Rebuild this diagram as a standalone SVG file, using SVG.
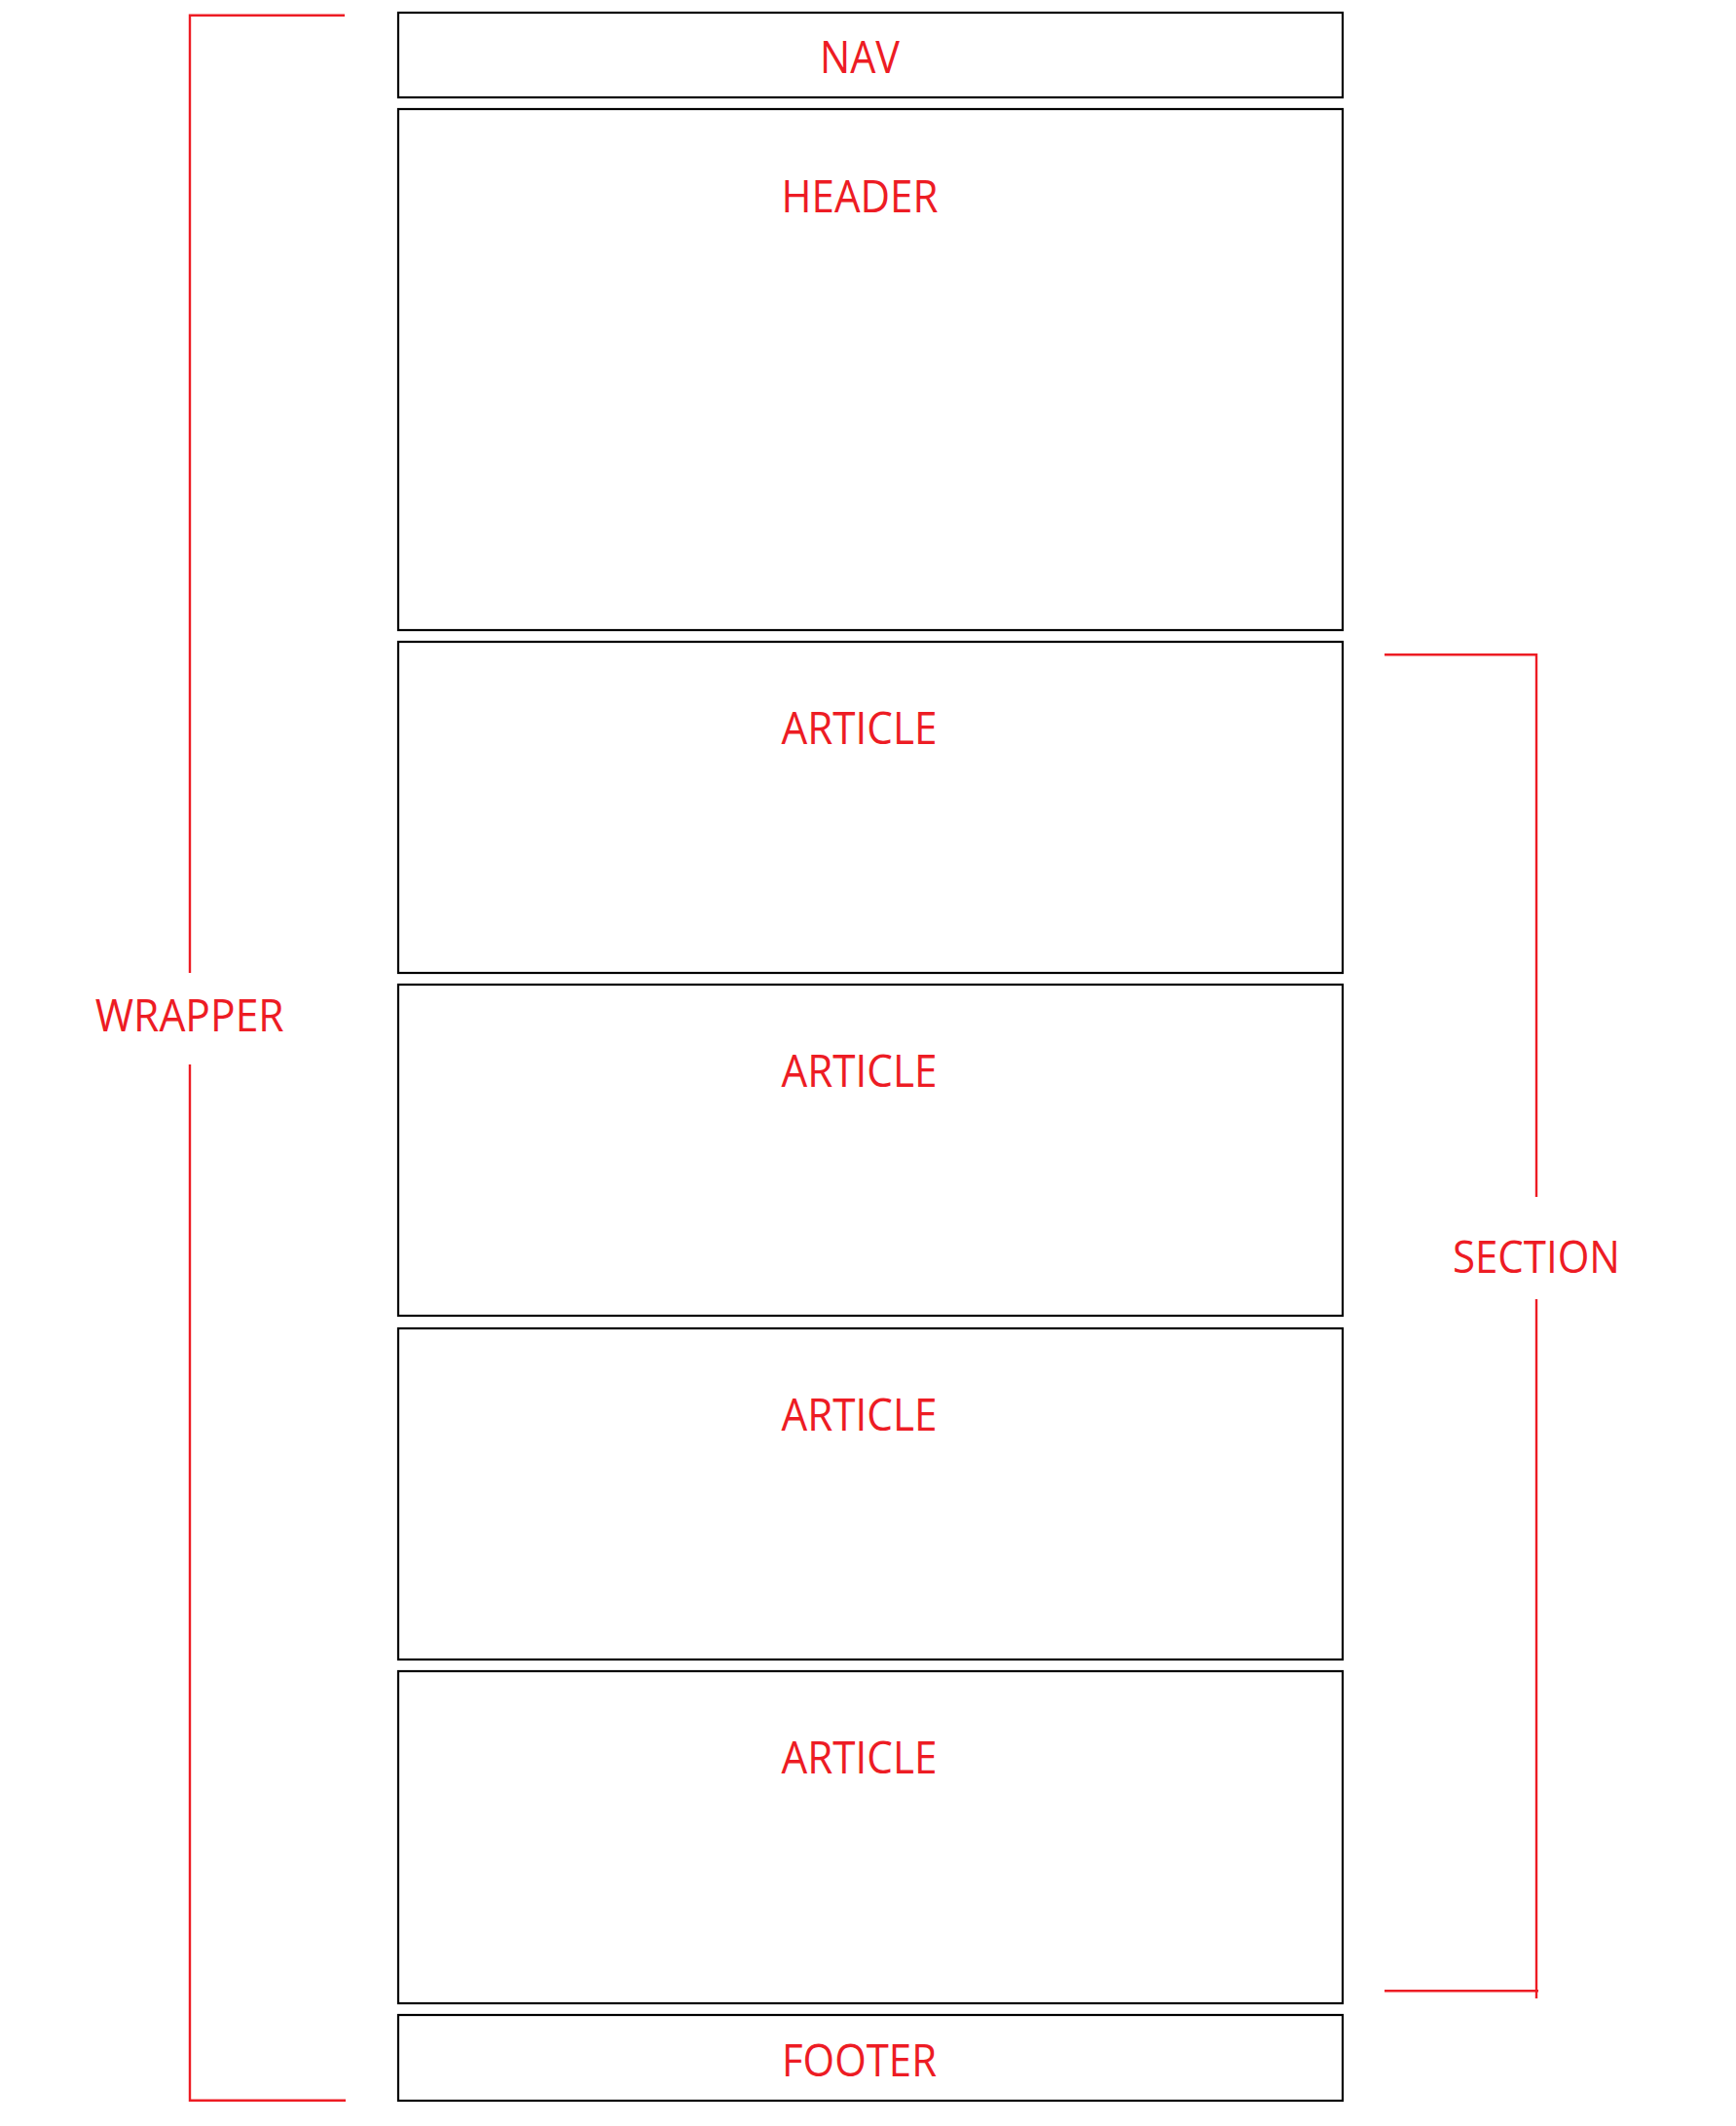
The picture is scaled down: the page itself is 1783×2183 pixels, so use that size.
<svg xmlns="http://www.w3.org/2000/svg" width="1783" height="2183" viewBox="0 0 1783 2183">
<style>
.box{fill:#fff;stroke:#000;stroke-width:2.2}
.lbl{font-family:"Open Sans","Noto Sans",sans-serif;font-size:45px;fill:#ED1C24;text-anchor:middle}
.br{fill:none;stroke:#ED1C24;stroke-width:2.4}
</style>
<rect width="1783" height="2183" fill="#fff"/>
<g id="nav"><rect class="box" x="409" y="13" width="970" height="87"/><text class="lbl" x="883" y="75" textLength="82" lengthAdjust="spacingAndGlyphs">NAV</text></g>
<g id="header"><rect class="box" x="409" y="112" width="970" height="535"/><text class="lbl" x="883" y="217.7" textLength="161" lengthAdjust="spacingAndGlyphs">HEADER</text></g>
<g id="article1"><rect class="box" x="409" y="659" width="970" height="340"/><text class="lbl" x="882.5" y="764" textLength="160" lengthAdjust="spacingAndGlyphs">ARTICLE</text></g>
<g id="article2"><rect class="box" x="409" y="1011" width="970" height="340"/><text class="lbl" x="882.5" y="1116" textLength="160" lengthAdjust="spacingAndGlyphs">ARTICLE</text></g>
<g id="article3"><rect class="box" x="409" y="1364" width="970" height="340"/><text class="lbl" x="882.5" y="1469" textLength="160" lengthAdjust="spacingAndGlyphs">ARTICLE</text></g>
<g id="article4"><rect class="box" x="409" y="1716" width="970" height="341"/><text class="lbl" x="882.5" y="1821" textLength="160" lengthAdjust="spacingAndGlyphs">ARTICLE</text></g>
<g id="footer"><rect class="box" x="409" y="2069" width="970" height="88"/><text class="lbl" x="882.5" y="2132.3" textLength="159" lengthAdjust="spacingAndGlyphs">FOOTER</text></g>
<g id="wrapper"><text class="lbl" x="194.7" y="1059" textLength="194" lengthAdjust="spacingAndGlyphs">WRAPPER</text></g>
<g id="section"><text class="lbl" x="1578" y="1306.7" textLength="172" lengthAdjust="spacingAndGlyphs">SECTION</text></g>
<g id="connectors">
<path class="br" d="M354 15.7H195V999M195 1093V2156.7H355"/>
<path class="br" d="M1422 672.3H1578V1229M1578 1334V2052M1422 2044.3H1580"/>
</g>
</svg>
